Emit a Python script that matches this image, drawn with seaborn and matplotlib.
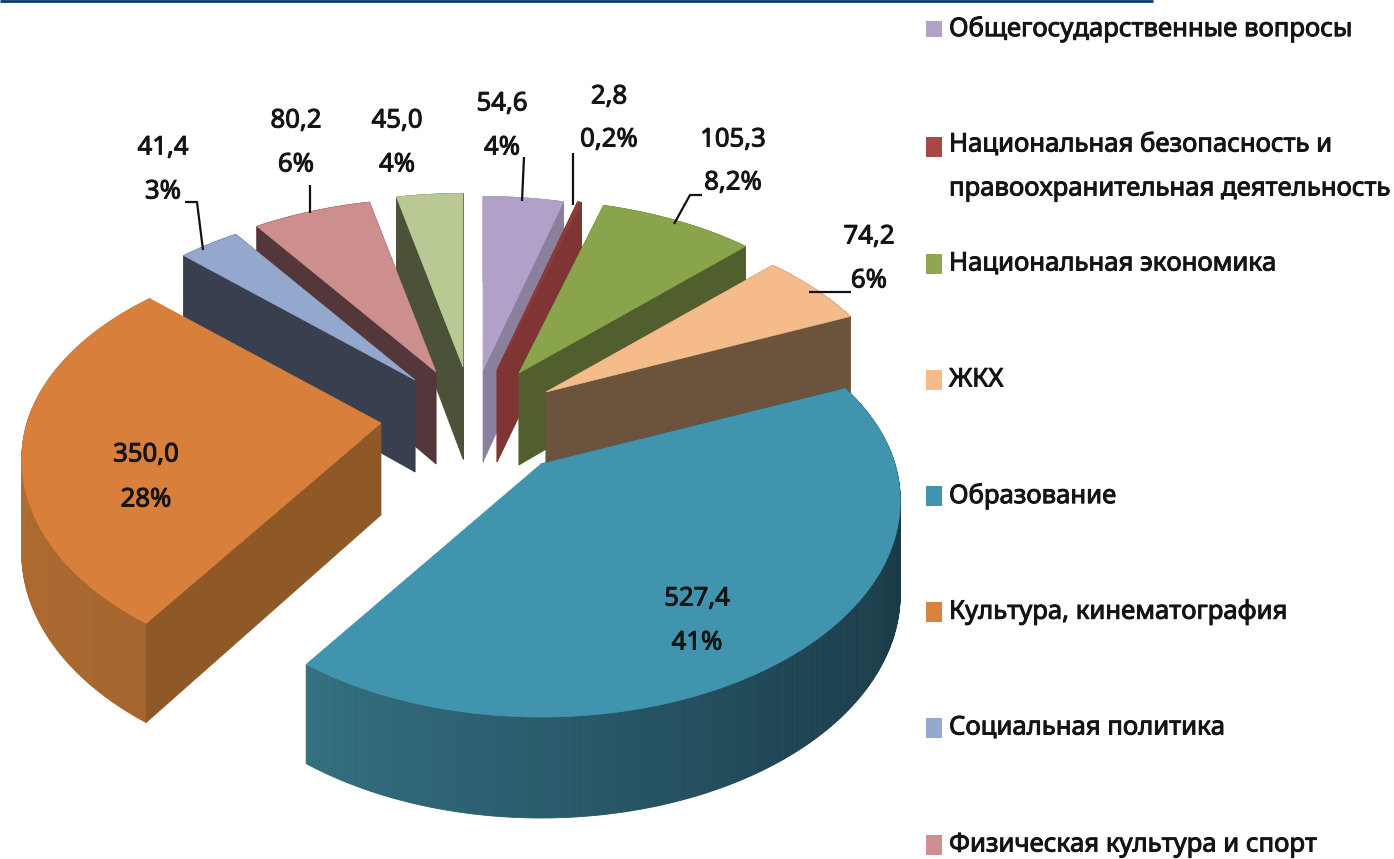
import numpy as np
import matplotlib
matplotlib.use('Agg')
import matplotlib.pyplot as plt
import matplotlib.patheffects as pe
from matplotlib.patches import Polygon, Rectangle
import seaborn as sns

# chart data, clockwise from 12 o'clock
categories = ['Общегосударственные вопросы',
              'Национальная безопасность и\nправоохранительная деятельность',
              'Национальная экономика', 'ЖКХ', 'Образование',
              'Культура, кинематография', 'Социальная политика',
              'Физическая культура и спорт']
values = [54.6, 2.8, 105.3, 74.2, 527.4, 350.0, 41.4, 80.2, 45.0]
value_labels = ['54,6', '2,8', '105,3', '74,2', '527,4', '350,0', '41,4', '80,2', '45,0']
pct_labels = ['4%', '0,2%', '8,2%', '6%', '41%', '28%', '3%', '6%', '4%']

# colours
top_colors = ['#B1A0C7', '#8E3A38', '#8AA44C', '#F6BB8A', '#4094AE', '#D77F3B', '#94A7CC', '#CD8E8E', '#B9C994']
cut_colors = ['#8B7F9E', '#803535', '#505F2D', '#6C533D', '#1A3B47', '#8F5927', '#3A3F4F', '#53373A', '#4B5238']
legend_colors = ['#B1A0C7', '#A94745', '#8EA84F', '#F6BB8A', '#4094AE', '#DC823C', '#95A8D0', '#CF8F8E']

# layout, in image pixels
apex_x = [483, 497, 519, 546, 541, 381, 415, 436, 463]
apex_y = [370, 370, 373, 392, 464, 423, 380, 372, 367]
label_x = [502, 609, 733, 869, 697, 146, 163, 296, 397]
value_y = [104, 97, 140, 237, 599, 455, 148, 121, 121]
pct_y = [148, 140, 183, 281, 643, 500, 192, 165, 165]
legend_y = [29, 147, 264, 380, 496, 612, 728, 845]
marker_h = [16, 20, 20, 20, 20, 20, 20, 20]
draw_order = [8, 7, 6, 0, 1, 2, 3, 5, 4]

RX, RY_FRONT, RY_BACK, PERSP, DEPTH = 354, 210, 203, 0.17, 92

sns.set_theme(style='white')
plt.rcParams['font.family'] = ['Noto Sans', 'DejaVu Sans']
TXT = dict(color='#141414', fontsize=18.5,
           path_effects=[pe.withStroke(linewidth=0.7, foreground='#141414')])


def project(theta, ax0, ay0):
    """Top surface point and the depth below it for an angle in degrees."""
    t = np.radians(theta)
    y = -np.cos(t)
    f = 1 / (1 - PERSP * y)
    ry = np.where(y > 0, RY_FRONT, RY_BACK)
    return ax0 + RX * np.sin(t) * f, ay0 + ry * y * f, DEPTH * np.sqrt(f)


fig = plt.figure(figsize=(13.94, 8.59), dpi=100)
ax = fig.add_axes([0, 0, 1, 1])
ax.set_xlim(0, 1394)
ax.set_ylim(859, 0)
ax.axis('off')

edges = np.concatenate([[0], np.cumsum(values)]) / np.sum(values) * 360

for i in draw_order:
    a0, b0 = apex_x[i], apex_y[i]
    thetas = np.linspace(edges[i], edges[i + 1], max(int(edges[i + 1] - edges[i]) * 2, 2) + 1)
    px, py, pd = project(thetas, a0, b0)

    # outer wall, as narrow strips so that it can carry a gradient
    if i == 4:
        wall = sns.blend_palette(['#1A3A46', '#1A3A46', '#1E4552', '#2A5A6B', '#33707F'], len(thetas))
    elif i == 5:
        wall = sns.blend_palette(['#A5652D', '#B06C31', '#BE7A3A'], len(thetas))
    else:
        wall = [cut_colors[i]] * len(thetas)
    for k in range(len(thetas) - 1):
        strip = [(px[k], py[k]), (px[k + 1], py[k + 1]),
                 (px[k + 1], py[k + 1] + pd[k + 1]), (px[k], py[k] + pd[k])]
        ax.add_patch(Polygon(strip, facecolor=wall[k], edgecolor=wall[k], lw=0.6))

    # the two cut faces, the far ones of the two big slices stay hidden
    for k in (0, -1):
        if i in (4, 5) and k == -1:
            continue
        face = [(a0, b0), (px[k], py[k]), (px[k], py[k] + pd[k]), (a0, b0 + DEPTH)]
        ax.add_patch(Polygon(face, facecolor=cut_colors[i], edgecolor=cut_colors[i], lw=0.5))

    top = [(a0, b0)] + list(zip(px, py))
    ax.add_patch(Polygon(top, facecolor=top_colors[i], edgecolor=top_colors[i], lw=0.5))

# leader lines
leaders = [([524, 522], [157, 201]), ([573, 573], [153, 205]),
           ([702, 690, 674], [195, 195, 224]), ([809, 851], [292, 292]),
           ([185, 197, 203], [202, 202, 250]), ([310, 310], [185, 213])]
for lx, ly in leaders:
    ax.plot(lx, ly, color='#111111', lw=1.6, solid_capstyle='butt')

# data labels
for i in range(len(values)):
    ax.text(label_x[i], value_y[i], value_labels[i], ha='center', va='center', **TXT)
    ax.text(label_x[i], pct_y[i], pct_labels[i], ha='center', va='center', **TXT)

# legend
for name, color, y, h in zip(categories, legend_colors, legend_y, marker_h):
    ax.add_patch(Rectangle((926, y - h / 2), 16, h, facecolor=color, edgecolor='none'))
    if '\n' in name:
        first, second = name.split('\n')
        ax.text(949, y - 2, first, ha='left', va='center', **TXT)
        ax.text(949, y + 42, second, ha='left', va='center', **TXT)
    else:
        ax.text(949, y, name, ha='left', va='center', **TXT)

# rule along the top edge
ax.plot([0, 1153], [0.5, 0.5], color='#0B3B6E', lw=2, solid_capstyle='butt')

fig.savefig('out.png', dpi=100, facecolor='white')
